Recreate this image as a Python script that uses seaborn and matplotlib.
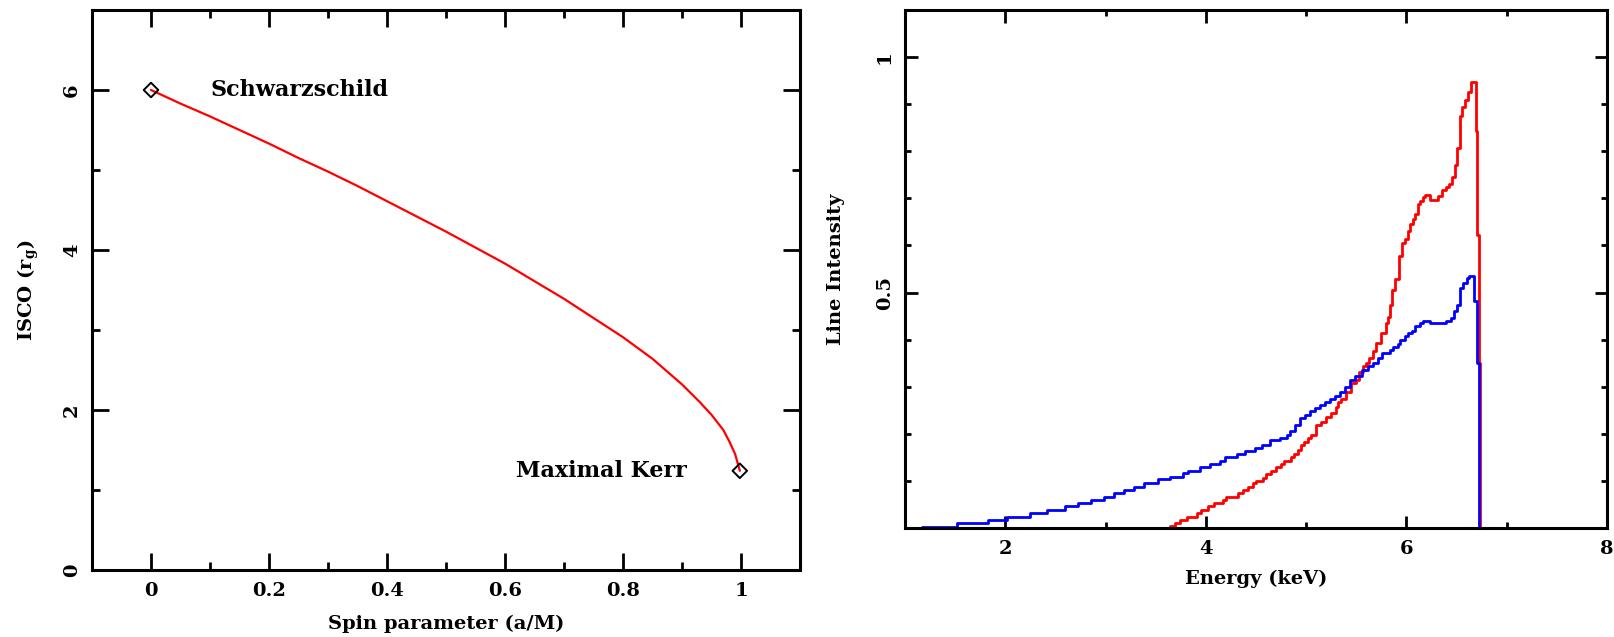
import matplotlib
matplotlib.use("Agg")
import matplotlib.pyplot as plt
import seaborn as sns
from matplotlib.ticker import MultipleLocator, FixedLocator

# ---------------- data: left panel (ISCO vs spin) ----------------
spin = [0.0, 0.05, 0.10, 0.15, 0.20, 0.25, 0.30, 0.35, 0.40, 0.45, 0.50,
        0.55, 0.60, 0.65, 0.70, 0.75, 0.80, 0.85, 0.90, 0.93, 0.95, 0.97,
        0.98, 0.99, 0.998]
isco = [6.00, 5.83, 5.67, 5.50, 5.33, 5.15, 4.98, 4.80, 4.61, 4.42, 4.23,
        4.03, 3.83, 3.61, 3.39, 3.15, 2.91, 2.64, 2.32, 2.10, 1.94, 1.75,
        1.61, 1.45, 1.24]
marker_spin = [0.0, 0.998]
marker_isco = [6.0, 1.24]
marker_labels = ["Schwarzschild", "Maximal Kerr"]

left_xticks = [0, 0.2, 0.4, 0.6, 0.8, 1.0]
left_xticklabels = ["0", "0.2", "0.4", "0.6", "0.8", "1"]
left_yticks = [0, 2, 4, 6]
left_yticklabels = ["0", "2", "4", "6"]

# ---------------- data: right panel (line profiles) ----------------
blue_edges = [1.00, 1.17, 1.52, 1.83, 2.02, 2.25, 2.42, 2.60, 2.73, 2.85,
              2.98, 3.08, 3.18, 3.28, 3.38, 3.52, 3.64, 3.77, 3.82, 3.94,
              4.04, 4.14, 4.19, 4.31, 4.39, 4.49, 4.56, 4.64, 4.74, 4.81,
              4.84, 4.89, 4.94, 4.99, 5.04, 5.09, 5.14, 5.19, 5.24, 5.29,
              5.34, 5.39, 5.44, 5.49, 5.56, 5.62, 5.67, 5.72, 5.76, 5.84,
              5.87, 5.92, 5.94, 5.99, 6.02, 6.06, 6.09, 6.14, 6.17, 6.24,
              6.39, 6.44, 6.47, 6.50, 6.53, 6.56, 6.60, 6.62, 6.67, 6.70]
blue_vals = [0.000, 0.003, 0.010, 0.017, 0.024, 0.031, 0.038, 0.046, 0.053, 0.060,
             0.066, 0.074, 0.081, 0.088, 0.095, 0.103, 0.109, 0.116, 0.122, 0.129,
             0.136, 0.143, 0.150, 0.157, 0.163, 0.170, 0.177, 0.186, 0.192, 0.198,
             0.205, 0.218, 0.233, 0.241, 0.249, 0.255, 0.262, 0.268, 0.274, 0.281,
             0.288, 0.300, 0.314, 0.323, 0.335, 0.343, 0.350, 0.360, 0.371, 0.377,
             0.384, 0.391, 0.400, 0.407, 0.414, 0.419, 0.428, 0.435, 0.440, 0.436,
             0.440, 0.446, 0.460, 0.474, 0.510, 0.521, 0.530, 0.536, 0.481, 0.350]
blue_end = 6.72

red_edges = [3.62, 3.64, 3.69, 3.74, 3.81, 3.91, 3.95, 4.02, 4.08, 4.17,
             4.20, 4.32, 4.37, 4.42, 4.47, 4.50, 4.57, 4.60, 4.65, 4.70,
             4.75, 4.78, 4.85, 4.88, 4.92, 4.95, 4.98, 5.02, 5.05, 5.10,
             5.15, 5.20, 5.25, 5.30, 5.32, 5.35, 5.40, 5.45, 5.50, 5.53,
             5.57, 5.60, 5.63, 5.67, 5.70, 5.75, 5.80, 5.82, 5.84, 5.86,
             5.89, 5.93, 5.96, 5.99, 6.02, 6.04, 6.07, 6.09, 6.12, 6.14,
             6.17, 6.19, 6.24, 6.31, 6.35, 6.39, 6.42, 6.45, 6.48, 6.50,
             6.53, 6.55, 6.58, 6.61, 6.64, 6.69, 6.70, 6.72]
red_vals = [0.000, 0.004, 0.011, 0.017, 0.024, 0.031, 0.038, 0.046, 0.053, 0.059,
            0.066, 0.074, 0.081, 0.088, 0.095, 0.100, 0.107, 0.115, 0.122, 0.129,
            0.136, 0.143, 0.150, 0.158, 0.165, 0.176, 0.182, 0.191, 0.197, 0.218,
            0.225, 0.236, 0.245, 0.257, 0.268, 0.275, 0.289, 0.308, 0.315, 0.332,
            0.344, 0.351, 0.360, 0.376, 0.392, 0.414, 0.435, 0.449, 0.474, 0.506,
            0.528, 0.578, 0.606, 0.613, 0.631, 0.645, 0.656, 0.667, 0.688, 0.695,
            0.702, 0.708, 0.697, 0.704, 0.717, 0.724, 0.731, 0.745, 0.770, 0.807,
            0.875, 0.894, 0.909, 0.926, 0.948, 0.842, 0.623, 0.350]
red_end = 6.73

right_xticks = [2, 4, 6, 8]
right_xticklabels = ["2", "4", "6", "8"]
right_yticks = [0.5, 1.0]
right_yticklabels = ["0.5", "1"]

# ---------------- style ----------------
sns.set_theme(style="ticks")
plt.rcParams["font.family"] = ["DejaVu Serif"]
plt.rcParams["font.weight"] = "bold"
plt.rcParams["axes.labelweight"] = "bold"
plt.rcParams["mathtext.fontset"] = "dejavuserif"
plt.rcParams["mathtext.default"] = "bf"
for key in ("text.color", "axes.labelcolor", "xtick.color", "ytick.color",
            "axes.edgecolor", "xtick.labelcolor", "ytick.labelcolor"):
    plt.rcParams[key] = "black"

fig = plt.figure(figsize=(16.14, 6.37), dpi=100)
ax1 = fig.add_axes([92 / 1614, 67 / 637, 708 / 1614, 560 / 637])
ax2 = fig.add_axes([905 / 1614, 109 / 637, 702 / 1614, 518 / 637])

for ax in (ax1, ax2):
    for s in ax.spines.values():
        s.set_linewidth(2.2)
        s.set_color("black")
    ax.tick_params(which="both", direction="in", top=True, right=True,
                   width=2.0, color="black", labelcolor="black", labelsize=14)
    ax.tick_params(which="major", length=9)
    ax.tick_params(which="minor", length=4.5)
    ax.tick_params(axis="y", which="major", pad=8)
    ax.tick_params(axis="x", which="major", pad=9)

# ---------------- left panel ----------------
sns.lineplot(x=spin, y=isco, color="#ff0000", lw=1.6, ax=ax1, sort=True)
sns.scatterplot(x=marker_spin, y=marker_isco, marker="D", s=55,
                facecolor="none", edgecolor="black", linewidth=1.4, ax=ax1,
                zorder=5)
ax1.text(marker_spin[0] + 0.1, marker_isco[0], marker_labels[0],
         fontsize=16, fontweight="bold", va="center", ha="left", color="black")
ax1.text(marker_spin[1] - 0.09, marker_isco[1], marker_labels[1],
         fontsize=16, fontweight="bold", va="center", ha="right", color="black")
ax1.set_xlim(-0.1, 1.1)
ax1.set_ylim(0, 7)
ax1.xaxis.set_major_locator(FixedLocator(left_xticks))
ax1.set_xticklabels(left_xticklabels)
ax1.xaxis.set_minor_locator(MultipleLocator(0.1))
ax1.yaxis.set_major_locator(FixedLocator(left_yticks))
ax1.set_yticklabels(left_yticklabels, rotation=90, va="center")
ax1.yaxis.set_minor_locator(MultipleLocator(1))
ax1.tick_params(which="major", length=12)
ax1.tick_params(which="minor", length=6)
ax1.set_xlabel("Spin parameter (a/M)", fontsize=14, labelpad=10, color="black")
ax1.set_ylabel("ISCO (r$_g$)", fontsize=14, labelpad=16, color="black")

# ---------------- right panel ----------------
sns.lineplot(x=red_edges + [red_end], y=red_vals + [0.0],
             drawstyle="steps-post", color="#ff0000", lw=2.0, ax=ax2)
sns.lineplot(x=blue_edges + [blue_end], y=blue_vals + [0.0],
             drawstyle="steps-post", color="#0000ff", lw=2.0, ax=ax2)
ax2.set_xlim(1, 8)
ax2.set_ylim(0, 1.1)
ax2.xaxis.set_major_locator(FixedLocator(right_xticks))
ax2.set_xticklabels(right_xticklabels)
ax2.xaxis.set_minor_locator(MultipleLocator(1))
ax2.yaxis.set_major_locator(FixedLocator(right_yticks))
ax2.set_yticklabels(right_yticklabels, rotation=90, va="center")
ax2.yaxis.set_minor_locator(MultipleLocator(0.1))
ax2.set_xlabel("Energy (keV)", fontsize=14, labelpad=8, color="black")
ax2.set_ylabel("Line Intensity", fontsize=14, labelpad=22, color="black")

fig.savefig("out.png", dpi=100, facecolor="white")
